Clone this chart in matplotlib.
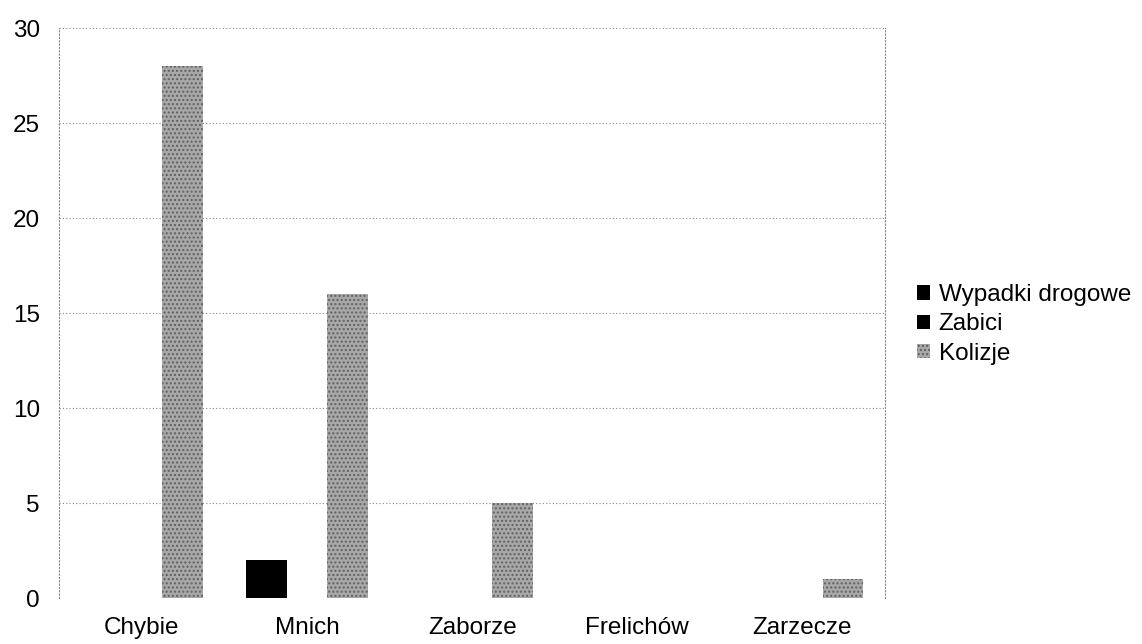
import numpy as np
import matplotlib.pyplot as plt

plt.rcParams['font.family'] = ['Liberation Sans', 'DejaVu Sans']

categories = ['Chybie', 'Mnich', 'Zaborze', 'Frelichów', 'Zarzecze']
wypadki = [0, 2, 0, 0, 0]
zabici = [0, 0, 0, 0, 0]
kolizje = [28, 16, 5, 0, 1]

fig = plt.figure(figsize=(11.42, 6.44), dpi=100)
ax = fig.add_axes([0.052, 0.0714, 0.723, 0.885])

x = np.arange(len(categories))
w = 0.245
ax.bar(x - w, wypadki, w, color='black', label='Wypadki drogowe')
ax.bar(x, zabici, w, color='black', label='Zabici')
ax.bar(x + w, kolizje, w, color='#a8a8a8', hatch='....', edgecolor='#606060',
       linewidth=0, label='Kolizje')

ax.set_xlim(-0.5, len(categories) - 0.5)
ax.set_ylim(0, 30)
ax.set_yticks(range(0, 31, 5))
ax.set_xticks(x)
ax.set_xticklabels(categories)
ax.tick_params(axis='both', length=0, labelsize=17.5)
ax.tick_params(axis='y', pad=14)
ax.tick_params(axis='x', pad=14)

ax.yaxis.grid(True, color='#888888', linestyle=(0, (1, 2)), linewidth=0.8)
ax.set_axisbelow(True)
for s in ['top', 'bottom']:
    ax.spines[s].set_visible(False)
for s in ['left', 'right']:
    ax.spines[s].set_linestyle((0, (1, 2)))
    ax.spines[s].set_color('#888888')
    ax.spines[s].set_linewidth(0.8)

ax.legend(loc='center left', bbox_to_anchor=(1.012, 0.48), frameon=False,
          fontsize=17.5, handlelength=0.55, handleheight=0.55, handletextpad=0.35,
          labelspacing=0.3)

fig.savefig('out.png', dpi=100)
